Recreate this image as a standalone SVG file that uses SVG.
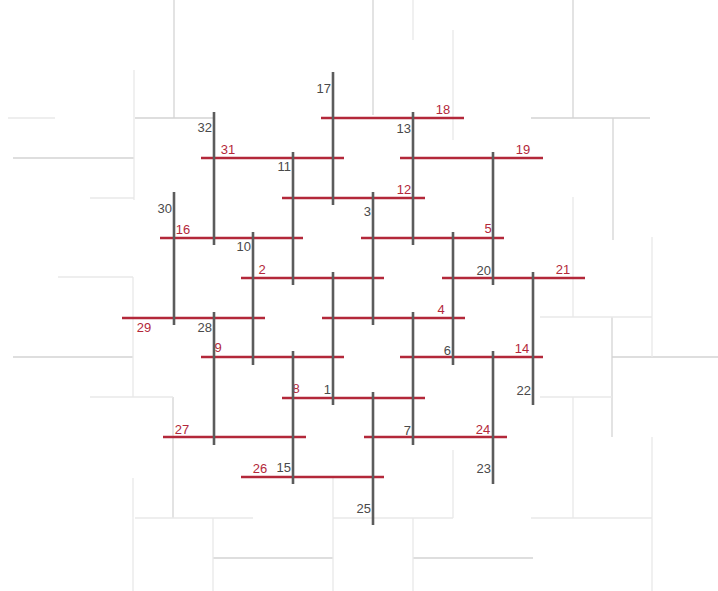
<svg xmlns="http://www.w3.org/2000/svg" width="718" height="591" viewBox="0 0 718 591">
<style>
.bg{stroke:#d4d4d4;stroke-width:1.3;fill:none}
.bf{stroke:#e9e9e9;stroke-width:1.3;fill:none}
.h{stroke:#b3283a;stroke-width:2.6;fill:none}
.v{stroke:#5c5c5c;stroke-width:2.6;fill:none}
text{font-family:"Liberation Sans Narrow","Liberation Sans",Arial,sans-serif;font-size:13px}
.lv{fill:#4a4a4a;text-anchor:end}
.lh{fill:#b3283a;text-anchor:middle}
</style>
<rect width="718" height="591" fill="#ffffff"/>
<g id="background">
<path class="bg" d="M174 0V118M135 118H214M13 158H134M373 0V115M573 0V118M531 118H650M613 118V240M612 357H718M612 317V437M478 558H533M413 558H533M213 558H333M173 397V518M13 357H133"/>
<path class="bf" d="M8 118H55M134 70V200M90 198H134M413 0V40M453 30V140M573 197V317M540 317H652M652 237V357M573 397V518M540 397H612M531 518H652M652 437V591M413 518V591M333 518H453M453 450V518M333 478V591M213 518V591M135 518H253M133 478V591M90 397H173M133 277V397M58 277H133"/>
</g>
<g id="connectors">
<g id="h18"><path class="h" d="M321 118H464"/><text class="lh" x="443" y="114">18</text></g>
<g id="h31"><path class="h" d="M201 158H344"/><text class="lh" x="228" y="154">31</text></g>
<g id="h19"><path class="h" d="M400 158H543"/><text class="lh" x="523" y="154">19</text></g>
<g id="h12"><path class="h" d="M282 198H425"/><text class="lh" x="404" y="194">12</text></g>
<g id="h16"><path class="h" d="M160 238H303"/><text class="lh" x="183" y="234">16</text></g>
<g id="h5"><path class="h" d="M361 238H504"/><text class="lh" x="488" y="233">5</text></g>
<g id="h2"><path class="h" d="M241 278H384"/><text class="lh" x="262" y="274">2</text></g>
<g id="h21"><path class="h" d="M442 278H585"/><text class="lh" x="563" y="274">21</text></g>
<g id="h29"><path class="h" d="M122 318H265"/><text class="lh" x="144" y="332">29</text></g>
<g id="h4"><path class="h" d="M322 318H465"/><text class="lh" x="441" y="314">4</text></g>
<g id="h9"><path class="h" d="M201 357H344"/><text class="lh" x="218" y="352">9</text></g>
<g id="h14"><path class="h" d="M400 357H543"/><text class="lh" x="522" y="353">14</text></g>
<g id="h8"><path class="h" d="M282 398H425"/><text class="lh" x="296" y="393">8</text></g>
<g id="h27"><path class="h" d="M163 437H306"/><text class="lh" x="182" y="434">27</text></g>
<g id="h24"><path class="h" d="M364 437H507"/><text class="lh" x="483" y="434">24</text></g>
<g id="h26"><path class="h" d="M241 477H384"/><text class="lh" x="260" y="473">26</text></g>
</g>
<g id="v17"><path class="v" d="M333 72V205"/><text class="lv" x="331" y="93">17</text></g>
<g id="v13"><path class="v" d="M413 112V245"/><text class="lv" x="411" y="133">13</text></g>
<g id="v32"><path class="v" d="M214 112V245"/><text class="lv" x="212" y="132">32</text></g>
<g id="v11"><path class="v" d="M293 152V285"/><text class="lv" x="291" y="171">11</text></g>
<g id="v3"><path class="v" d="M373 192V325"/><text class="lv" x="371" y="216">3</text></g>
<g id="v30"><path class="v" d="M174 192V325"/><text class="lv" x="172" y="213">30</text></g>
<g id="v20"><path class="v" d="M493 152V285"/><text class="lv" x="491" y="275">20</text></g>
<g id="v10"><path class="v" d="M253 232V365"/><text class="lv" x="251" y="251">10</text></g>
<g id="v6"><path class="v" d="M453 232V365"/><text class="lv" x="451" y="355">6</text></g>
<g id="v22"><path class="v" d="M533 272V405"/><text class="lv" x="531" y="395">22</text></g>
<g id="v1"><path class="v" d="M333 272V405"/><text class="lv" x="331" y="394">1</text></g>
<g id="v28"><path class="v" d="M214 312V445"/><text class="lv" x="212" y="332">28</text></g>
<g id="v7"><path class="v" d="M413 312V445"/><text class="lv" x="411" y="435">7</text></g>
<g id="v15"><path class="v" d="M293 351V484"/><text class="lv" x="291" y="472">15</text></g>
<g id="v23"><path class="v" d="M493 351V484"/><text class="lv" x="491" y="473">23</text></g>
<g id="v25"><path class="v" d="M373 392V525"/><text class="lv" x="371" y="513">25</text></g>
</svg>
